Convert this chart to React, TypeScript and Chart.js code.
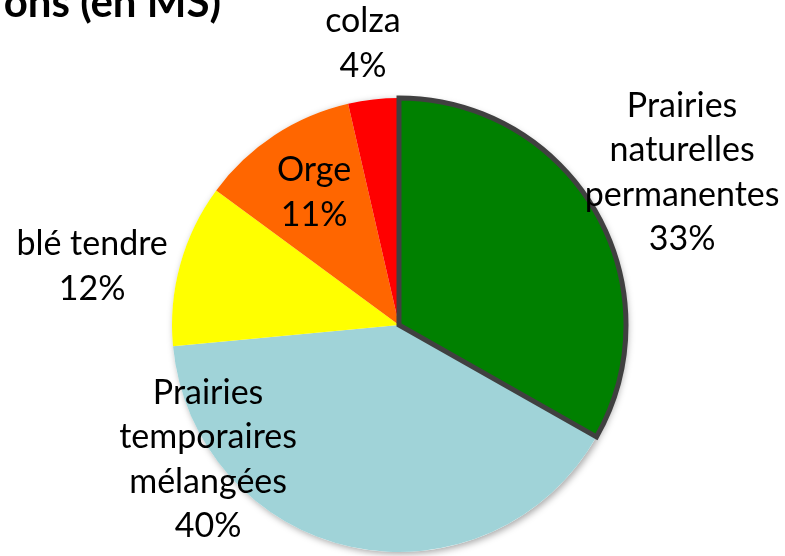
import React, { useEffect, useRef } from "react";
import { Chart, registerables } from "chart.js";

Chart.register(...registerables);

const categories = [
  "Prairies naturelles permanentes",
  "Prairies temporaires mélangées",
  "blé tendre",
  "Orge",
  "colza",
];
const labelLines = [
  ["Prairies", "naturelles", "permanentes"],
  ["Prairies", "temporaires", "mélangées"],
  ["blé tendre"],
  ["Orge"],
  ["colza"],
];
const shares = [33.2, 40.3, 11.6, 11.3, 3.6];
const percentLabels = ["33%", "40%", "12%", "11%", "4%"];
const colors = ["#008000", "#A0D3D8", "#FFFF00", "#FF6600", "#FF0000"];
const titleText = "ons (en MS)";

// label anchor offsets in units of the pie radius (x: centre of text, y: middle baseline)
const labelOffsets = [
  [1.247, -0.623],
  [-0.841, 0.641],
  [-1.352, -0.209],
  [-0.374, -0.535],
  [-0.159, -1.192],
];

const FONT = "Lato, 'Open Sans', sans-serif";

export default function App() {
  const ref = useRef<HTMLCanvasElement | null>(null);
  useEffect(() => {
    document.body.style.margin = "0";
    const canvas = ref.current!;
    const shadowPlugin = {
      id: "pieShadow",
      beforeDatasetsDraw(chart: any) {
        const arc = chart.getDatasetMeta(0).data[0];
        if (!arc) return;
        const { x, y, outerRadius } = arc.getProps(["x", "y", "outerRadius"], true);
        const ctx = chart.ctx;
        ctx.save();
        ctx.shadowColor = "rgba(0,0,0,0.35)";
        ctx.shadowBlur = 7;
        ctx.shadowOffsetX = 2;
        ctx.shadowOffsetY = 2;
        ctx.fillStyle = "#ffffff";
        ctx.beginPath();
        ctx.arc(x, y, outerRadius, 0, Math.PI * 2);
        ctx.fill();
        ctx.restore();
      },
    };
    const borderAndLabels = {
      id: "borderAndLabels",
      afterDatasetsDraw(chart: any) {
        const ctx = chart.ctx;
        const meta = chart.getDatasetMeta(0);
        const arc = meta.data[0];
        const p = arc.getProps(["x", "y", "outerRadius", "startAngle", "endAngle"], true);
        ctx.save();
        ctx.strokeStyle = "#404040";
        ctx.lineWidth = 5;
        ctx.lineJoin = "miter";
        ctx.beginPath();
        ctx.moveTo(p.x, p.y);
        ctx.arc(p.x, p.y, p.outerRadius, p.startAngle, p.endAngle);
        ctx.closePath();
        ctx.stroke();
        ctx.restore();

        const r = p.outerRadius;
        const lh = 44.5;
        ctx.save();
        ctx.fillStyle = "#000000";
        ctx.font = `34px ${FONT}`;
        ctx.textAlign = "center";
        ctx.textBaseline = "alphabetic";
        labelLines.forEach((lines, i) => {
          const all = [...lines, percentLabels[i]];
          const cx = p.x + labelOffsets[i][0] * r;
          const cy = p.y + labelOffsets[i][1] * r;
          all.forEach((t, j) => {
            ctx.fillText(t, cx, cy + (j - (all.length - 1) / 2) * lh);
          });
        });
        ctx.font = `bold 42px ${FONT}`;
        ctx.textAlign = "right";
        ctx.fillText(titleText, 221, 17);
        ctx.restore();
      },
    };
    const chart = new Chart(canvas, {
      type: "pie",
      data: {
        labels: categories,
        datasets: [
          {
            data: shares,
            backgroundColor: colors,
            borderWidth: 0,
          },
        ],
      },
      options: {
        animation: false,
        responsive: false,
        layout: { padding: { top: 98, bottom: 4, left: 172, right: 159 } },
        plugins: {
          legend: { display: false },
          title: { display: false },
          tooltip: { enabled: false },
        },
      },
      plugins: [shadowPlugin, borderAndLabels],
    });
    return () => chart.destroy();
  }, []);
  return (
    <div style={{ width: 785, height: 556, background: "#fff" }}>
      <canvas ref={ref} width={785} height={556} style={{ display: "block" }} />
    </div>
  );
}
